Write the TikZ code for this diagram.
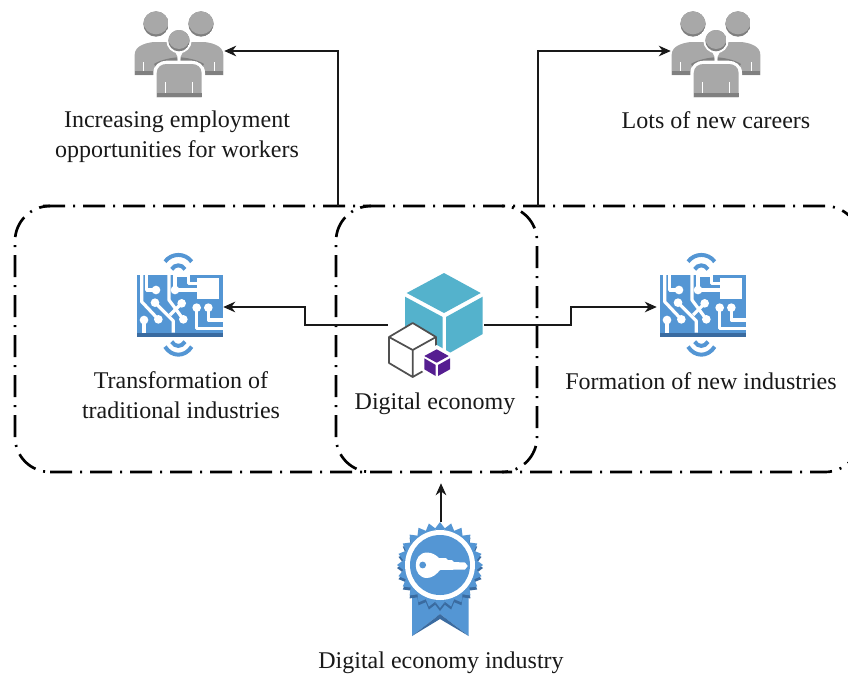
\documentclass[tikz,border=0pt]{standalone}
\usepackage{fontspec}
\setmainfont{Liberation Serif}
\usetikzlibrary{arrows.meta}
\definecolor{pgray}{RGB}{168,168,168}
\definecolor{pgrayd}{RGB}{128,128,128}
\definecolor{iblue}{RGB}{84,150,212}
\definecolor{iblued}{RGB}{58,107,160}
\definecolor{cteal}{RGB}{84,178,204}
\definecolor{cpurple}{RGB}{85,30,145}
\definecolor{cgray}{RGB}{80,80,80}
\newcommand{\headat}[3]{%
  \begin{scope}
    \clip (#1,#2) circle (#3);
    \fill[pgrayd] (#1,#2) circle (#3);
    \fill[pgray] (#1,#2-7) circle (#3);
  \end{scope}}
\tikzset{
  x=0.75pt,y=-0.75pt,
  lbl/.style={font=\fontsize{18pt}{22.5pt}\selectfont,align=center,inner sep=0pt,text=black!90},
  conn/.style={draw=black!90,line width=0.9pt,-{Stealth[length=9pt,width=8pt]}},
  zone/.style={draw=black,line width=2pt,rounded corners=26.25pt},
  zonedash/.style={dash pattern=on 16.5pt off 6pt on 1.5pt off 6pt,dash phase=#1},
  anchorpt/.style={inner sep=0pt,minimum size=0pt},
  people/.pic={
    \begin{scope}[x=0.25pt,y=-0.25pt]
      \headat{108}{72}{38}
      \headat{243}{72}{38}
      \fill[pgray] (44,225) -- (44,165) .. controls (44,140) and (70,130) .. (100,126) -- (150,126) -- (172,170) -- (172,182) .. controls (140,185) and (115,190) .. (100,225) -- cycle;
      \fill[pgray] (310,225) -- (310,165) .. controls (310,140) and (284,130) .. (254,126) -- (204,126) -- (182,170) -- (182,182) .. controls (214,185) and (239,190) .. (254,225) -- cycle;
      \fill[pgrayd] (44,213) rectangle (108,225);
      \fill[pgrayd] (246,213) rectangle (310,225);
      \draw[pgrayd,line width=3pt] (172,178) .. controls (150,180) and (125,185) .. (105,197);
      \draw[pgrayd,line width=3pt] (182,178) .. controls (204,180) and (229,185) .. (249,197);
      \fill[white] (69,185) rectangle (73,213);
      \fill[white] (281,185) rectangle (285,213);
      \fill[white] (177,122) circle (38);
      \fill[white] (100,300) -- (100,218) .. controls (100,195) and (120,182) .. (140,182) -- (214,182) .. controls (234,182) and (255,195) .. (255,218) -- (255,300) -- cycle;
      \headat{177}{122}{32}
      \fill[pgray] (110,292) -- (110,220) .. controls (110,200) and (125,192) .. (140,192) -- (215,192) .. controls (230,192) and (245,200) .. (245,220) -- (245,292) -- cycle;
      \fill[pgrayd] (110,280) rectangle (245,292);
      \fill[white] (135,245) rectangle (139,280);
      \fill[white] (215,245) rectangle (219,280);
    \end{scope}
  },
  chip/.pic={
    \begin{scope}[x=0.25pt,y=-0.25pt]
      \fill[iblue] (50,105) rectangle (310,290);
      \fill[iblued] (50,278) rectangle (310,290);
      \fill[white] (230,115) rectangle (298,178);
      \begin{scope}[draw=white,line width=2.4pt,line join=round]
        \draw (65,105) -- (65,185) -- (115,238);
        \draw (80,105) -- (80,150) -- (108,150);
        \draw (105,188) -- (160,243) -- (160,278);
        \draw (72,240) -- (72,278);
        \draw (147,105) -- (147,180) -- (190,238);
        \draw (165,105) -- (165,150) -- (230,150);
        \draw (165,105) -- (205,105) -- (205,130) -- (230,130);
        \draw (185,190) -- (150,225);
        \draw (230,203) -- (230,265) -- (310,265);
        \draw (265,203) -- (265,240) -- (310,240);
      \end{scope}
      \fill[white] (108,150) circle (13) (165,150) circle (13) (105,188) circle (13) (185,190) circle (13) (115,238) circle (13) (190,238) circle (13) (72,240) circle (13) (230,203) circle (13) (265,203) circle (13);
      \begin{scope}[iblue,line width=3pt,line cap=butt]
        \draw (135,65) .. controls (155,38) and (195,38) .. (215,65);
        \draw (155,88) .. controls (165,72) and (185,72) .. (195,88);
        \draw (135,320) .. controls (155,352) and (195,352) .. (215,320);
        \draw (155,305) .. controls (165,322) and (185,322) .. (195,305);
      \end{scope}
    \end{scope}
  },
}
\begin{document}
\begin{tikzpicture}
\useasboundingbox (0,0) rectangle (848,675);
\fill[white] (0,0) rectangle (848,675);
% zones
\draw[zone,zonedash=0pt] (43,206) -- (860,206) -- (860,260);
\draw[zone,zonedash=0pt] (50,472) -- (860,472) -- (860,420);
\draw[zone,zonedash=8.25pt] (50,206) -- (15,206) -- (15,472) -- (50,472);
\draw[zone,zonedash=8.25pt] (371,206) -- (336,206) -- (336,472) -- (371,472);
\draw[zone,zonedash=15pt] (502,206) -- (537,206) -- (537,472) -- (502,472);
% people
\pic at (120,0) {people};
\pic at (657,0) {people};
% chips
\pic at (120,240) {chip};
\pic at (643,240) {chip};
% cubes
\fill[cteal] (444,273) -- (480.7,293) -- (444,313) -- (406.7,293) -- cycle;
\fill[cteal] (405,296.7) -- (442.7,317) -- (442.7,355) -- (405,345) -- cycle;
\fill[cteal] (446,317) -- (482.7,296.7) -- (482.7,334) -- (446,355) -- cycle;
\fill[white] (389,337) -- (412.7,323) -- (436,337) -- (436,352) -- (425,370) -- (412.7,377) -- (389,363) -- cycle;
\draw[cgray,line width=1.3pt,line join=round] (436,349) -- (436,337) -- (412.7,323) -- (389,337) -- (412.7,350) -- (436,337) (389,337) -- (389,363) -- (412.7,377) -- (412.7,350) (412.7,377) -- (425,370);
\fill[white] (436.7,345) -- (452.5,354) -- (452.5,371) -- (437,380) -- (422,371) -- (422,354) -- cycle;
\fill[cpurple] (436.7,349.3) -- (448.7,356) -- (436.7,362.7) -- (424.3,356) -- cycle;
\fill[cpurple] (424.3,358.3) -- (435.7,365) -- (435.7,376) -- (424.3,369.3) -- cycle;
\fill[cpurple] (438,365) -- (450,358.3) -- (450,369.3) -- (438,376) -- cycle;
% ribbon
\fill[iblue] (412,590) -- (412,636) -- (440,614) -- (468.7,636) -- (468.7,590) -- cycle;
\fill[iblued] (412,636) -- (440,614) -- (440,619) -- cycle;
\fill[iblued] (468.7,636) -- (440,614) -- (440,619) -- cycle;
\foreach \a in {0,15,...,345}{
  \fill[iblued] ({440+43*cos(\a)},{568+43*sin(\a)}) -- ({440+37*cos(\a-7.5)},{568+37*sin(\a-7.5)}) -- (440,568) -- ({440+37*cos(\a+7.5)},{568+37*sin(\a+7.5)}) -- cycle;
}
\foreach \a in {0,15,...,345}{
  \fill[iblue] ({440+43*cos(\a)},{565+43*sin(\a)}) -- ({440+37*cos(\a-7.5)},{565+37*sin(\a-7.5)}) -- (440,565) -- ({440+37*cos(\a+7.5)},{565+37*sin(\a+7.5)}) -- cycle;
}
\fill[white] (440,565) circle (35);
\fill[iblue] (440,565) circle (30);
\fill[white] (427,552.5) .. controls (412,552.5) and (412,578) .. (427,578) .. controls (432,578) and (437,574) .. (440,570) -- (465,569.5) -- (467.7,566) -- (465,562.5) -- (454,562) -- (452,560) -- (448,560) -- (446,558) -- (439,558) .. controls (436,555) and (432,552.5) .. (427,552.5) -- cycle;
\fill[iblue] (422.7,565) circle (3.4);
% labels
\node[lbl] (l1) at (177,137) {Increasing employment\\opportunities for workers};
\node[lbl] (l2) at (716,120) {Lots of new careers};
\node[lbl] (l3) at (181,395) {Transformation of\\traditional industries};
\node[lbl] (l4) at (435,404) {Digital economy};
\node[lbl] (l5) at (701,381) {Formation of new industries};
\node[lbl] (l6) at (441,663) {Digital economy industry};
% anchors
\node[anchorpt] (ppl1) at (224,51) {};
\node[anchorpt] (ppl2) at (671,51) {};
\node[anchorpt] (ch1) at (223,307) {};
\node[anchorpt] (ch2) at (657,307) {};
\node[anchorpt] (zt1) at (338,206) {};
\node[anchorpt] (zt2) at (538,206) {};
\node[anchorpt] (cl) at (388,325) {};
\node[anchorpt] (cr) at (484,325) {};
\node[anchorpt] (zb) at (441,483) {};
\node[anchorpt] (ribt) at (441,522) {};
\draw[conn] (zt1) |- (ppl1);
\draw[conn] (zt2) |- (ppl2);
\draw[conn] (cl) -- (305,325) -- (305,307) -- (ch1);
\draw[conn] (cr) -- (571,325) -- (571,307) -- (ch2);
\draw[conn] (ribt) -- (zb);
\end{tikzpicture}
\end{document}
